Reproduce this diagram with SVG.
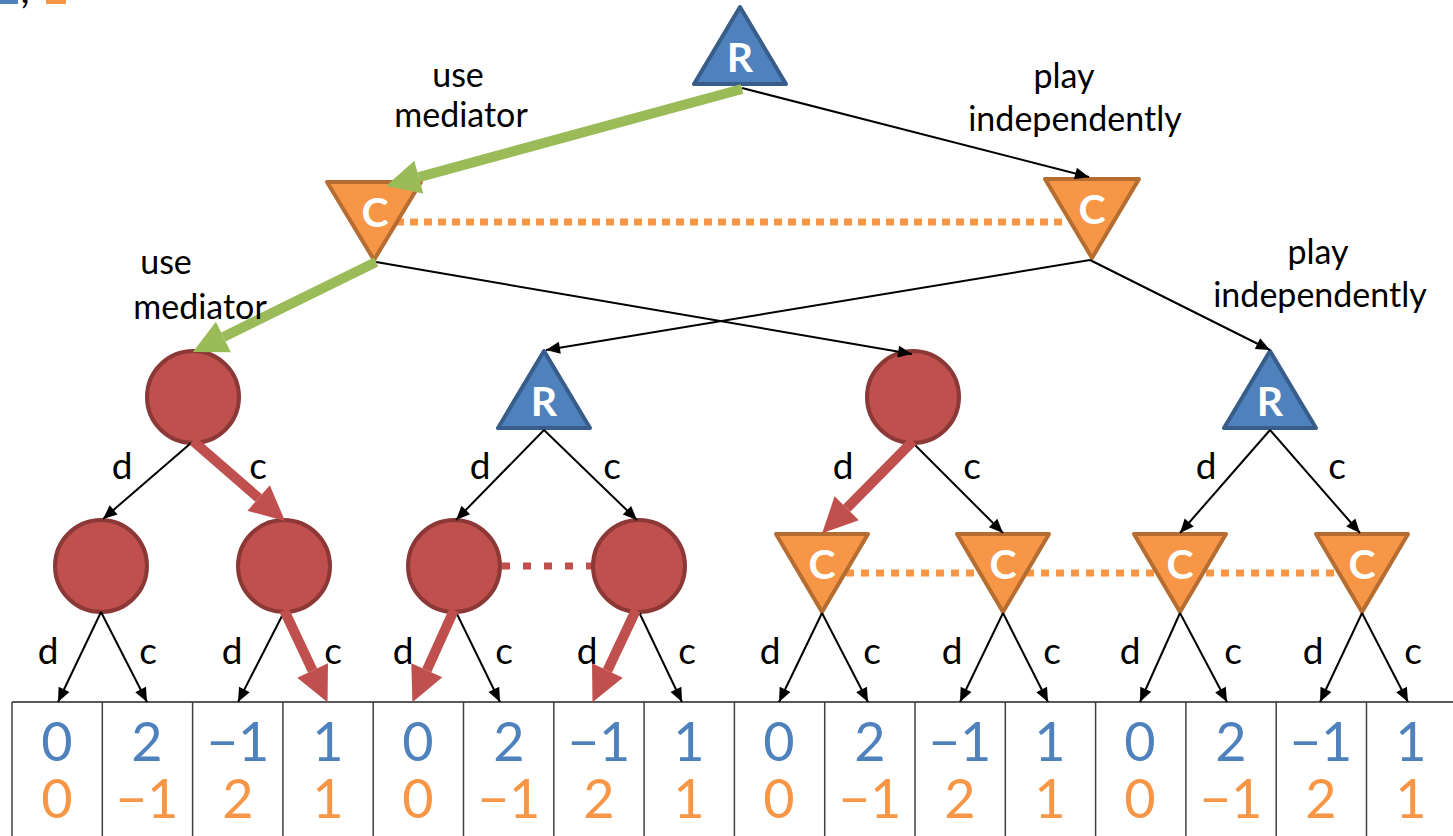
<svg xmlns="http://www.w3.org/2000/svg" width="1453" height="836" viewBox="0 0 1453 836">
  <style>
    .lbl { font-family: Lato, "Open Sans", "Liberation Sans", sans-serif; font-size: 34px; fill: #000; text-anchor: middle; }
    .mv { font-size: 37px; }
    .tag { font-family: Lato, "Liberation Sans", sans-serif; font-size: 41px; font-weight: bold; fill: #fff; text-anchor: middle; }
    .num { font-family: Lato, "Liberation Sans", sans-serif; font-size: 54px; text-anchor: middle; }
    .pr { fill: #4f81bd; }
    .pc { fill: #f79646; }
    .rtri { fill: #4f81bd; stroke: #385d8a; stroke-width: 4; stroke-linejoin: round; }
    .ctri { fill: #f79646; stroke: #b66d31; stroke-width: 4; stroke-linejoin: round; }
    .circ { fill: #c0504d; stroke: #8c3836; stroke-width: 4; }
    .thin { stroke: #000; stroke-width: 2; fill: none; marker-end: url(#ah); }
    .green { stroke: #9bbb59; stroke-width: 10; fill: none; marker-end: url(#ahg); }
    .red { stroke: #c0504d; stroke-width: 10; fill: none; marker-end: url(#ahr); }
    .grid { stroke: #404040; stroke-width: 1.5; }
  </style>
  <defs>
    <marker id="ah" markerUnits="userSpaceOnUse" markerWidth="16" markerHeight="14" refX="14" refY="6" orient="auto" overflow="visible">
      <path d="M0,0 L14,6 L0,12 z" fill="#000"/>
    </marker>
    <marker id="ahg" markerUnits="userSpaceOnUse" markerWidth="36" markerHeight="36" refX="0" refY="17" orient="auto" overflow="visible">
      <path d="M0,0 L34,17 L0,34 z" fill="#9bbb59"/>
    </marker>
    <marker id="ahr" markerUnits="userSpaceOnUse" markerWidth="36" markerHeight="36" refX="0" refY="17" orient="auto" overflow="visible">
      <path d="M0,0 L35,17 L0,34 z" fill="#c0504d"/>
    </marker>
  </defs>

  <rect width="1453" height="836" fill="#fff"/>

  <!-- clipped legend fragments along the top edge -->
  <g id="legend-fragment">
    <rect x="0" y="0" width="18" height="4" fill="#4f81bd"/>
    <text x="25" y="3" font-family="Lato, 'Liberation Sans', sans-serif" font-size="40" fill="#000" text-anchor="middle">,</text>
    <rect x="46" y="0" width="20" height="4" fill="#f79646"/>
  </g>

  <!-- information sets (dotted) -->
  <g id="infosets">
    <line x1="396" y1="222" x2="1066" y2="222" stroke="#f79646" stroke-width="7" stroke-dasharray="8 6"/>
    <line x1="502" y1="566" x2="592" y2="566" stroke="#c0504d" stroke-width="7" stroke-dasharray="8 13"/>
    <line x1="846" y1="573" x2="1340" y2="573" stroke="#f79646" stroke-width="7" stroke-dasharray="8 7"/>
  </g>

  <!-- payoff table -->
  <g id="payoffs">
    <line x1="12" y1="702" x2="1453" y2="702" stroke="#595959" stroke-width="2"/>
    <g class="grid">
      <line x1="12" y1="702" x2="12" y2="836"/>
      <line x1="102.3" y1="702" x2="102.3" y2="836"/>
      <line x1="192.6" y1="702" x2="192.6" y2="836"/>
      <line x1="282.9" y1="702" x2="282.9" y2="836"/>
      <line x1="373.2" y1="702" x2="373.2" y2="836"/>
      <line x1="463.5" y1="702" x2="463.5" y2="836"/>
      <line x1="553.8" y1="702" x2="553.8" y2="836"/>
      <line x1="644.1" y1="702" x2="644.1" y2="836"/>
      <line x1="734.4" y1="702" x2="734.4" y2="836"/>
      <line x1="824.7" y1="702" x2="824.7" y2="836"/>
      <line x1="915" y1="702" x2="915" y2="836"/>
      <line x1="1005.3" y1="702" x2="1005.3" y2="836"/>
      <line x1="1095.6" y1="702" x2="1095.6" y2="836"/>
      <line x1="1185.9" y1="702" x2="1185.9" y2="836"/>
      <line x1="1276.2" y1="702" x2="1276.2" y2="836"/>
      <line x1="1366.5" y1="702" x2="1366.5" y2="836"/>
    </g>
    <g class="num pr">
      <text x="57" y="761">0</text><text x="147" y="761">2</text><text x="238" y="761">−1</text><text x="328" y="761">1</text>
      <text x="418" y="761">0</text><text x="509" y="761">2</text><text x="599" y="761">−1</text><text x="689" y="761">1</text>
      <text x="779" y="761">0</text><text x="870" y="761">2</text><text x="960" y="761">−1</text><text x="1050" y="761">1</text>
      <text x="1140" y="761">0</text><text x="1231" y="761">2</text><text x="1321" y="761">−1</text><text x="1411" y="761">1</text>
    </g>
    <g class="num pc">
      <text x="57" y="818">0</text><text x="147" y="818">−1</text><text x="238" y="818">2</text><text x="328" y="818">1</text>
      <text x="418" y="818">0</text><text x="509" y="818">−1</text><text x="599" y="818">2</text><text x="689" y="818">1</text>
      <text x="779" y="818">0</text><text x="870" y="818">−1</text><text x="960" y="818">2</text><text x="1050" y="818">1</text>
      <text x="1140" y="818">0</text><text x="1231" y="818">−1</text><text x="1321" y="818">2</text><text x="1411" y="818">1</text>
    </g>
  </g>

  <!-- decision nodes -->
  <g id="root-R">
    <polygon class="rtri" points="740,7 694,84 786,84"/>
    <text class="tag" x="740" y="72">R</text>
  </g>
  <g id="C-mediator">
    <polygon class="ctri" points="327,182 421,182 374,260"/>
    <text class="tag" x="375" y="227">C</text>
  </g>
  <g id="C-independent">
    <polygon class="ctri" points="1045,179 1139,179 1092,258"/>
    <text class="tag" x="1092" y="224">C</text>
  </g>
  <g id="med-both">
    <circle class="circ" cx="193" cy="397" r="46"/>
  </g>
  <g id="R-mid">
    <polygon class="rtri" points="544,351 498,428 590,428"/>
    <text class="tag" x="544" y="416">R</text>
  </g>
  <g id="med-C-only">
    <circle class="circ" cx="913" cy="397" r="46"/>
  </g>
  <g id="R-right">
    <polygon class="rtri" points="1270,351 1224,428 1316,428"/>
    <text class="tag" x="1270" y="416">R</text>
  </g>
  <g id="leaf-node-1"><circle class="circ" cx="101" cy="566" r="46"/></g>
  <g id="leaf-node-2"><circle class="circ" cx="284" cy="566" r="46"/></g>
  <g id="leaf-node-3"><circle class="circ" cx="454" cy="566" r="46"/></g>
  <g id="leaf-node-4"><circle class="circ" cx="639" cy="566" r="46"/></g>
  <g id="leaf-node-5">
    <polygon class="ctri" points="776,534 868,534 822,612"/>
    <text class="tag" x="822" y="579">C</text>
  </g>
  <g id="leaf-node-6">
    <polygon class="ctri" points="957,534 1049,534 1003,612"/>
    <text class="tag" x="1003" y="579">C</text>
  </g>
  <g id="leaf-node-7">
    <polygon class="ctri" points="1134,534 1226,534 1180,612"/>
    <text class="tag" x="1180" y="579">C</text>
  </g>
  <g id="leaf-node-8">
    <polygon class="ctri" points="1316,534 1408,534 1362,612"/>
    <text class="tag" x="1362" y="579">C</text>
  </g>

  <!-- moves -->
  <g id="connectors">
    <line class="thin" x1="742" y1="88" x2="1089" y2="177"/>
    <line class="thin" x1="376" y1="262" x2="912" y2="354"/>
    <line class="thin" x1="1090" y1="260" x2="546" y2="350"/>
    <line class="thin" x1="1090" y1="260" x2="1270" y2="350"/>

    <line class="thin" x1="191" y1="443" x2="103" y2="519"/>
    <line class="thin" x1="544" y1="430" x2="456" y2="520"/>
    <line class="thin" x1="544" y1="430" x2="637" y2="520"/>
    <line class="thin" x1="913" y1="443" x2="1003" y2="533"/>
    <line class="thin" x1="1270" y1="430" x2="1180" y2="533"/>
    <line class="thin" x1="1270" y1="430" x2="1360" y2="533"/>

    <line class="thin" x1="101" y1="612" x2="58" y2="702"/>
    <line class="thin" x1="101" y1="612" x2="147" y2="702"/>
    <line class="thin" x1="284" y1="612" x2="238" y2="702"/>
    <line class="thin" x1="456" y1="612" x2="500" y2="702"/>
    <line class="thin" x1="639" y1="612" x2="682" y2="702"/>
    <line class="thin" x1="822" y1="613" x2="779" y2="702"/>
    <line class="thin" x1="822" y1="613" x2="868" y2="702"/>
    <line class="thin" x1="1003" y1="613" x2="960" y2="702"/>
    <line class="thin" x1="1003" y1="613" x2="1048" y2="702"/>
    <line class="thin" x1="1180" y1="613" x2="1140" y2="702"/>
    <line class="thin" x1="1180" y1="613" x2="1227" y2="702"/>
    <line class="thin" x1="1362" y1="613" x2="1320" y2="702"/>
    <line class="thin" x1="1362" y1="613" x2="1408" y2="702"/>

    <line class="green" x1="742" y1="89" x2="418.8" y2="177.1"/>
    <line class="green" x1="376" y1="262" x2="223.4" y2="336.9"/>

    <line class="red" x1="193" y1="441" x2="258.6" y2="498"/>
    <line class="red" x1="284" y1="610" x2="312.6" y2="670.6"/>
    <line class="red" x1="454" y1="610" x2="426.8" y2="670.3"/>
    <line class="red" x1="636" y1="610" x2="607.4" y2="670.6"/>
    <line class="red" x1="913" y1="441" x2="846.7" y2="508.3"/>
  </g>

  <!-- move labels -->
  <g id="labels" class="lbl">
    <text x="458" y="87">use</text>
    <text x="461" y="127">mediator</text>
    <text x="1064" y="88">play</text>
    <text x="1075" y="131">independently</text>
    <text x="166" y="274">use</text>
    <text x="200" y="319">mediator</text>
    <text x="1318" y="264">play</text>
    <text x="1320" y="307">independently</text>
  </g>
  <g id="choice-labels" class="lbl mv">
    <text x="122" y="479">d</text><text x="258" y="479">c</text>
    <text x="480" y="479">d</text><text x="612" y="479">c</text>
    <text x="843" y="479">d</text><text x="972" y="479">c</text>
    <text x="1206" y="479">d</text><text x="1337" y="479">c</text>

    <text x="48" y="664">d</text><text x="148" y="664">c</text>
    <text x="232" y="664">d</text><text x="333" y="664">c</text>
    <text x="403" y="664">d</text><text x="504" y="664">c</text>
    <text x="587" y="664">d</text><text x="687" y="664">c</text>
    <text x="770" y="664">d</text><text x="872" y="664">c</text>
    <text x="952" y="664">d</text><text x="1052" y="664">c</text>
    <text x="1130" y="664">d</text><text x="1233" y="664">c</text>
    <text x="1313" y="664">d</text><text x="1413" y="664">c</text>
  </g>
</svg>
